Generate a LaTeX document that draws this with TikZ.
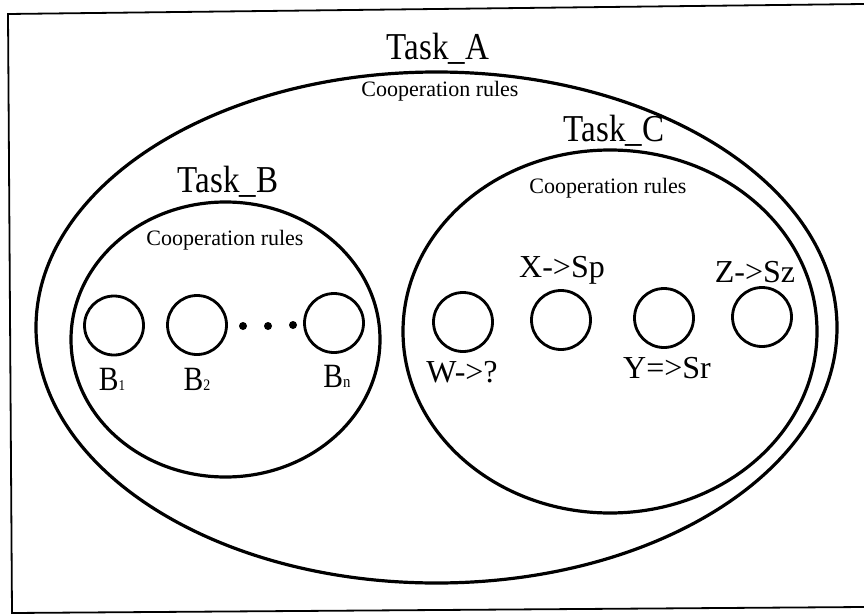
\documentclass[tikz,border=0pt]{standalone}
\usepackage{fontspec}
\setmainfont{Liberation Serif}
\newfontfamily\condfont{Liberation Serif}[FakeStretch=0.87]
\usetikzlibrary{shapes.geometric}
\begin{document}
\begin{tikzpicture}[x=1pt,y=-1pt,
  region/.style={draw, ellipse, line width=3.2pt, inner sep=0pt},
  agent/.style={draw, circle, line width=2.8pt, minimum size=59pt, inner sep=0pt},
  tasklbl/.style={font=\condfont\fontsize{38}{40}\selectfont, anchor=base, inner sep=0pt},
  rulelbl/.style={font=\fontsize{22}{24}\selectfont, anchor=base, inner sep=0pt},
  blbl/.style={font=\condfont\fontsize{34}{36}\selectfont, anchor=base, inner sep=0pt},
  rlbl/.style={font=\fontsize{32}{34}\selectfont, anchor=base, inner sep=0pt},
  dotnode/.style={fill, circle, minimum size=8pt, inner sep=0pt},
  frameline/.style={line width=1.8pt}]
\useasboundingbox (0,0) rectangle (864,615);
% frame (open on the right)
\draw[frameline] (864,4) -- (8,14) -- (12,613) -- (864,607);
% regions
\node[region, minimum width=801pt, minimum height=511pt] (A) at (436.5,327.5) {};
\node[region, minimum width=309pt, minimum height=275pt] (B) at (225.5,339.5) {};
\node[region, minimum width=414pt, minimum height=363pt] (C) at (610,331.5) {};
% titles
\node[tasklbl] (tA) at (438,60) {Task\_A};
\node[rulelbl] (rA) at (440,97) {Cooperation rules};
\node[tasklbl] (tB) at (228,192) {Task\_B};
\node[rulelbl] (rB) at (225,245) {Cooperation rules};
\node[tasklbl] (tC) at (614,142) {Task\_C};
\node[rulelbl] (rC) at (608,193) {Cooperation rules};
% agents of B
\node[agent] (b1) at (114,325.5) {};
\node[agent] (b2) at (197,325) {};
\node[agent] (bn) at (334,323) {};
\node[dotnode] (d1) at (243,326) {};
\node[dotnode] (d2) at (268,326) {};
\node[dotnode] (d3) at (293,325) {};
\node[blbl] (lb1) at (112,390) {B{\fontsize{15}{15}\selectfont 1}};
\node[blbl] (lb2) at (197,390) {B{\fontsize{16}{16}\selectfont 2}};
\node[blbl] (lbn) at (337,387) {B{\fontsize{17}{17}\selectfont n}};
% agents of C
\node[agent] (w) at (463,322) {};
\node[agent] (x) at (561,320) {};
\node[agent] (y) at (664,318) {};
\node[agent] (z) at (762,317) {};
\node[rlbl] (lw) at (462,382) {W->?};
\node[rlbl] (lx) at (562,277) {X->Sp};
\node[rlbl] (ly) at (667,378) {Y=>Sr};
\node[rlbl] (lz) at (755,282) {Z->Sz};
\end{tikzpicture}
\end{document}
